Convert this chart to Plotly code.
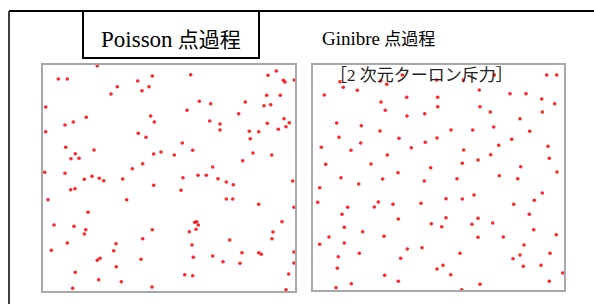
import plotly.graph_objects as go

# Point coordinates (panel units)
poisson_x = [97.3, 58.3, 67.3, 152.3, 137.7, 117.3, 149.0, 142.0, 111.0, 45.7, 150.7, 86.3, 73.3, 154.3, 65.0,
             45.7, 138.3, 146.0, 65.7, 94.0, 75.3, 161.0, 153.7, 71.0, 79.0, 142.7, 132.3, 44.7, 65.0, 92.0,
             99.3, 84.3, 122.7, 190.7, 276.3, 268.0, 283.3, 285.0, 294.3, 266.7, 280.3, 199.3, 210.7, 245.3, 264.0,
             270.7, 187.0, 238.7, 209.7, 220.0, 284.0, 289.3, 267.3, 286.0, 278.3, 220.0, 249.3, 258.7, 250.3, 182.3,
             192.7, 174.3, 253.0, 271.7, 242.7, 212.7, 183.0, 198.0, 206.3, 218.0, 103.7, 153.7, 70.7, 75.0, 48.0,
             126.7, 88.0, 54.0, 74.0, 85.7, 84.3, 152.3, 142.7, 67.3, 116.0, 51.3, 113.7, 97.3, 100.0, 141.0,
             116.3, 75.3, 98.7, 121.3, 152.0, 72.7, 226.3, 233.3, 292.7, 181.0, 226.3, 232.7, 258.7, 294.0, 194.7,
             196.7, 198.3, 196.0, 282.0, 189.3, 273.0, 272.0, 229.7, 192.0, 242.0, 258.7, 261.3, 294.0, 212.7, 193.3,
             223.0, 240.0, 294.0, 288.7, 184.7, 192.7, 286.0]
poisson_y = [65.7, 79.0, 79.0, 76.0, 81.0, 86.7, 86.7, 90.7, 94.0, 107.0, 116.0, 117.3, 122.0, 122.0, 125.0,
             131.7, 133.3, 137.3, 147.3, 150.0, 153.7, 152.0, 154.0, 158.7, 158.3, 163.7, 168.7, 172.3, 173.3, 176.3,
             178.3, 179.3, 179.0, 74.7, 71.0, 75.3, 80.3, 82.0, 80.0, 95.3, 95.3, 101.3, 103.7, 102.0, 105.7,
             104.7, 110.3, 113.7, 121.0, 124.0, 118.7, 122.7, 123.3, 126.7, 129.3, 130.0, 131.3, 131.7, 138.7, 143.0,
             150.3, 155.0, 153.0, 155.0, 160.7, 167.0, 177.7, 175.3, 175.3, 178.7, 180.7, 185.3, 189.7, 188.7, 199.7,
             199.7, 212.3, 225.0, 226.3, 229.7, 234.0, 229.7, 238.7, 243.0, 243.7, 250.3, 250.7, 260.3, 258.3, 259.3,
             266.7, 272.3, 279.7, 281.7, 287.0, 288.3, 182.0, 184.7, 181.0, 190.3, 199.0, 199.0, 204.3, 207.3, 222.3,
             221.7, 225.0, 229.3, 221.7, 231.7, 232.0, 238.7, 240.0, 245.0, 252.7, 252.7, 254.3, 252.0, 256.0, 257.3,
             261.7, 263.3, 263.0, 274.0, 274.7, 275.7, 289.7]

ginibre_x = [448.3, 499.3, 520.0, 546.7, 556.7, 340.0, 343.3, 357.3, 380.7, 386.7, 402.3, 436.7, 463.3, 324.3, 406.7,
             437.7, 479.3, 510.0, 526.0, 541.7, 381.0, 385.3, 437.7, 407.0, 424.7, 336.7, 361.3, 380.0, 339.0, 360.7,
             399.0, 437.0, 321.3, 351.0, 411.3, 425.3, 387.3, 325.7, 371.0, 430.7, 398.0, 341.0, 382.7, 494.3, 554.7,
             480.0, 490.3, 542.3, 520.0, 564.3, 493.7, 451.0, 472.7, 529.7, 511.7, 498.7, 548.0, 463.7, 490.7, 478.0,
             549.3, 462.3, 520.7, 557.0, 499.3, 517.7, 457.0, 424.3, 358.7, 319.7, 317.7, 378.3, 374.3, 347.7, 393.0,
             421.0, 342.0, 398.3, 431.3, 344.3, 362.7, 329.0, 384.0, 319.7, 344.3, 407.3, 422.0, 359.3, 338.3, 400.7,
             337.3, 437.0, 384.7, 351.3, 398.3, 336.0, 564.3, 542.3, 446.0, 462.3, 474.0, 534.3, 513.7, 529.3, 446.0,
             478.0, 441.7, 472.0, 492.7, 533.7, 556.3, 478.0, 503.3, 524.0, 460.0, 520.0, 513.0, 550.0, 443.0, 523.3,
             541.0, 562.7, 450.7, 480.0, 549.3, 461.7]
ginibre_y = [64.3, 64.3, 64.3, 75.0, 75.0, 81.7, 87.3, 90.3, 81.0, 84.3, 75.0, 80.0, 80.0, 95.0, 97.3,
             97.3, 90.0, 93.7, 93.7, 99.0, 102.0, 110.3, 106.7, 116.0, 113.7, 123.0, 125.7, 131.0, 137.3, 143.0,
             138.3, 138.0, 147.3, 150.3, 147.7, 142.3, 155.0, 164.3, 164.0, 167.7, 172.7, 177.7, 179.0, 75.0, 103.7,
             106.7, 112.0, 112.0, 118.7, 128.3, 127.0, 130.0, 130.0, 131.3, 139.3, 145.3, 146.3, 150.0, 154.7, 160.0,
             158.3, 163.3, 166.7, 172.0, 175.7, 178.7, 178.7, 181.0, 184.0, 187.7, 202.3, 202.0, 207.0, 207.3, 204.3,
             203.3, 214.3, 219.0, 223.7, 227.3, 231.7, 237.0, 236.3, 244.3, 243.0, 249.0, 247.7, 253.3, 256.7, 258.3,
             268.3, 269.0, 275.3, 283.7, 281.3, 287.7, 184.0, 193.0, 198.7, 199.0, 195.0, 200.3, 204.3, 214.3, 217.7,
             218.3, 226.7, 224.3, 223.0, 229.7, 234.7, 237.3, 237.0, 245.0, 253.3, 255.0, 258.7, 253.3, 265.3, 266.3,
             265.3, 273.0, 274.7, 284.3, 281.3, 289.7]

title_latin = ["Poisson", "Ginibre"]
title_cjk = "点過程"
subtitle = "［2 次元クーロン斥力］"

W, H = 594, 304
SERIF = "'Liberation Serif', 'Noto Sans CJK JP', serif"

fig = go.Figure()
marker = dict(size=3.6, color="rgba(255,0,0,0.85)", line=dict(width=0))
fig.add_trace(go.Scatter(x=poisson_x, y=poisson_y, mode="markers", marker=marker,
                         xaxis="x", yaxis="y", hoverinfo="skip", cliponaxis=False))
fig.add_trace(go.Scatter(x=ginibre_x, y=ginibre_y, mode="markers", marker=marker,
                         xaxis="x2", yaxis="y2", hoverinfo="skip", cliponaxis=False))

def px(v):
    return v / W

def py(v):
    return 1 - v / H

ax = dict(showgrid=False, zeroline=False, showticklabels=False, ticks="",
          showline=True, mirror=True, linecolor="#a8a8a8", linewidth=2, fixedrange=True)

fig.update_layout(
    width=W, height=H,
    margin=dict(l=0, r=0, t=0, b=0),
    paper_bgcolor="white", plot_bgcolor="white",
    showlegend=False,
    xaxis=dict(ax, domain=[px(43), px(295)], range=[43, 295], anchor="y"),
    yaxis=dict(ax, domain=[py(291), py(65)], range=[291, 65], anchor="x"),
    xaxis2=dict(ax, domain=[px(313), px(564)], range=[313, 564], anchor="y2"),
    yaxis2=dict(ax, domain=[py(290), py(65)], range=[290, 65], anchor="x2"),
    shapes=[
        # outer frame (top and left)
        dict(type="line", xref="paper", yref="paper", x0=px(9), x1=1.0, y0=py(11), y1=py(11),
             line=dict(color="black", width=2)),
        dict(type="line", xref="paper", yref="paper", x0=px(9), x1=px(9), y0=py(11), y1=0,
             line=dict(color="black", width=1.5)),
        # title box
        dict(type="rect", xref="paper", yref="paper", x0=px(83), x1=px(259), y0=py(11), y1=py(58),
             line=dict(color="black", width=2), fillcolor="rgba(0,0,0,0)"),
    ],
    annotations=[
        dict(text=f"<span style='font-size:23px'>{title_latin[0]}</span> {title_cjk}",
             xref="paper", yref="paper", x=px(171), y=py(40),
             xanchor="center", yanchor="middle", showarrow=False,
             font=dict(family=SERIF, size=21, color="black")),
        dict(text=f"<span style='font-size:19px'>{title_latin[1]}</span> {title_cjk}",
             xref="paper", yref="paper", x=px(320), y=py(38),
             xanchor="left", yanchor="middle", showarrow=False,
             font=dict(family=SERIF, size=17, color="black")),
        dict(text=subtitle, xref="paper", yref="paper", x=px(328), y=py(75),
             xanchor="left", yanchor="middle", showarrow=False,
             font=dict(family=SERIF, size=17, color="#222")),
    ],
)

fig.write_html("out.html", config={"displayModeBar": False, "staticPlot": True},
               post_script="document.body.style.margin='0';document.body.style.overflow='hidden';")
